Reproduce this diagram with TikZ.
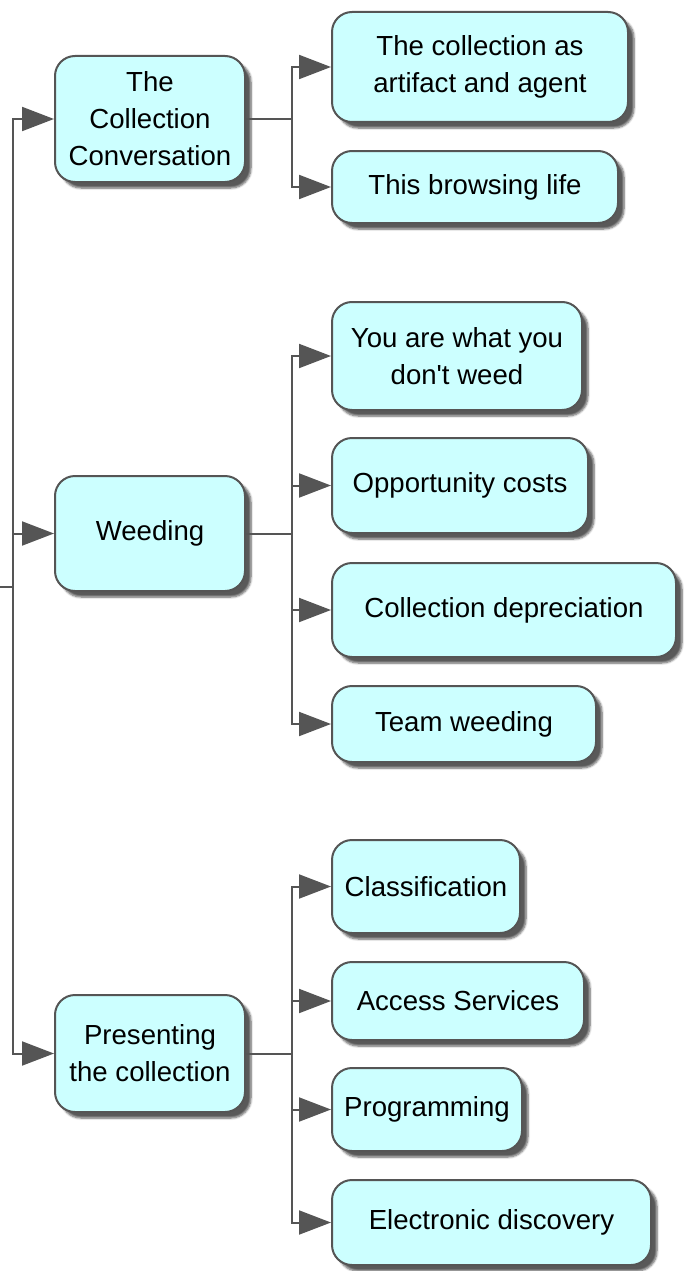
\documentclass[tikz,border=0pt]{standalone}
\usepackage{fontspec}
\setmainfont{Liberation Sans}
\usetikzlibrary{arrows.meta,shadows.blur}
\definecolor{boxfill}{HTML}{CCFFFF}
\definecolor{edge}{HTML}{555555}
\tikzset{
  box/.style={draw=edge, line width=2pt, fill=boxfill, rounded corners=20pt,
    inner sep=0pt, align=center, font=\fontsize{27.6}{37}\selectfont,
    blur shadow={shadow xshift=6pt, shadow yshift=-6pt, shadow blur steps=6, shadow opacity=65}},
  conn/.style={draw=edge, line width=2pt, -{Triangle[length=32pt,width=24pt]}}
}
\newcommand{\bx}[7]{% name, left, right, top, bottom, text
  \node[box, minimum width={#3-#2}, minimum height={#5-#4}] (#1) at ({(#2+#3)/2},{(#4+#5)/2}) {#6};}
\begin{document}
\begin{tikzpicture}[x=1pt,y=-1pt]
\useasboundingbox (0,0) rectangle (685,1271);
\bx{n1}{55}{245}{56}{182}{The\\Collection\\Conversation}{}
\bx{n2}{55}{245}{476}{591}{Weeding}{}
\bx{n3}{55}{245}{995}{1112}{Presenting\\the collection}{}
\bx{c1}{332}{628}{12}{122}{The collection as\\artifact and agent}{}
\bx{c2}{332}{618}{151}{223}{This browsing life}{}
\bx{c3}{332}{582}{302}{410}{You are what you\\don\textquotesingle t weed}{}
\bx{c4}{332}{588}{438}{533}{Opportunity costs}{}
\bx{c5}{332}{676}{563}{657}{Collection depreciation}{}
\bx{c6}{332}{596}{686}{762}{Team weeding}{}
\bx{c7}{332}{520}{840}{933}{Classification}{}
\bx{c8}{332}{584}{962}{1040}{Access Services}{}
\bx{c9}{332}{522}{1068}{1151}{Programming}{}
\bx{c10}{332}{651}{1180}{1265}{Electronic discovery}{}
\coordinate (root) at (0,587);
\foreach \n in {n1,n2,n3} \draw[conn] (root) -- ++(13,0) |- (\n.west);
\foreach \c in {c1,c2} \draw[conn] (n1.east) -- ++(46,0) |- (\c.west);
\foreach \c in {c3,c4,c5,c6} \draw[conn] (n2.east) -- ++(46,0) |- (\c.west);
\foreach \c in {c7,c8,c9,c10} \draw[conn] (n3.east) -- ++(46,0) |- (\c.west);
\end{tikzpicture}
\end{document}
